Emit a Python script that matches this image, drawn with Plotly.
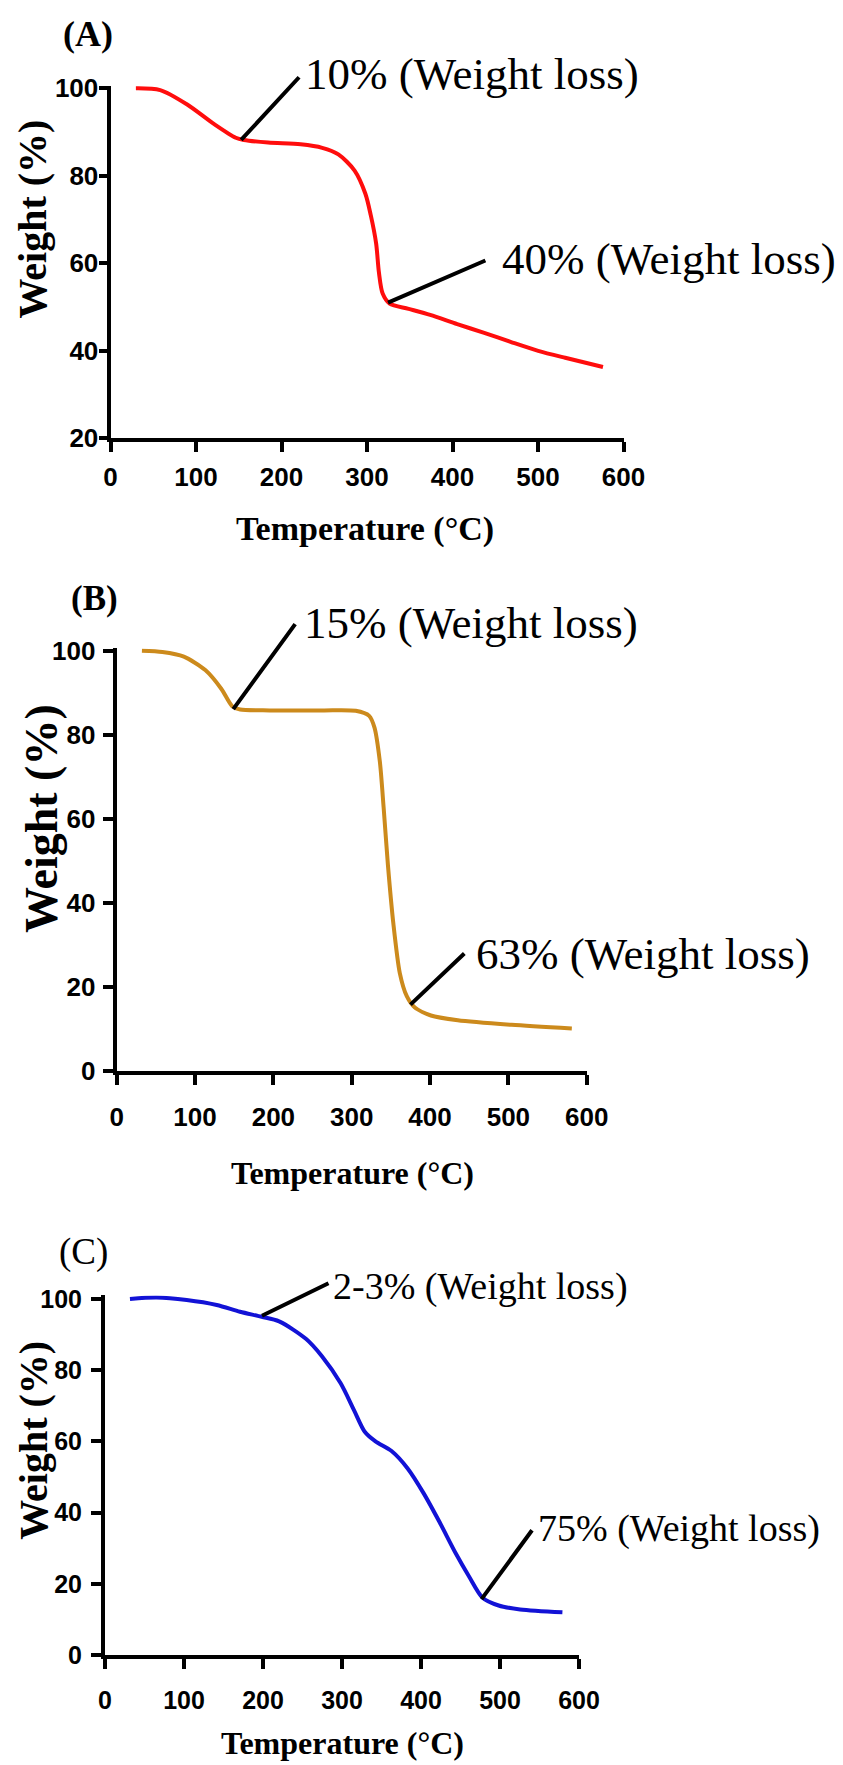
import plotly.graph_objects as go

# ---------------- data ----------------
temp_a = [29.7, 58.1, 89.7, 121.3, 146.5, 156, 184.4, 222.3, 247.6, 266.5, 285.5, 298.1,
          304.4, 310.7, 313.9, 318.3, 326.5, 348.6, 373.9, 405.5, 437.1, 468.6, 500.2, 531.8, 576]
weight_a = [100, 99.6, 96.3, 91.8, 88.7, 88.2, 87.6, 87.2, 86.4, 84.9, 81.2, 75.9,
            71.0, 64.5, 58.0, 53.1, 50.8, 49.6, 48.2, 46.1, 44.1, 42.0, 40.0, 38.4, 36.3]

temp_b = [32.2, 58.3, 85.7, 113.1, 133.7, 147.4, 157.7, 195.4, 264.0, 305.1, 322.3, 329.1,
          336.0, 340.8, 346.3, 353.1, 361.4, 370.3, 380.6, 401.1, 435.4, 504.0, 581]
weight_b = [100, 99.7, 98.6, 95.4, 90.9, 86.8, 86.0, 85.8, 85.8, 85.7, 84.5, 81.7,
            73.5, 62.6, 48.9, 35.2, 23.3, 17.8, 15.1, 13.2, 12.1, 11.0, 10.1]

temp_c = [31.6, 65.4, 103.4, 141.4, 170.9, 198.3, 220.4, 254.3, 274.6, 298.3, 315.3, 328.8,
          342.4, 362.7, 383.1, 403.4, 423.8, 444.1, 461.0, 478.0, 498.3, 525.5, 579]
weight_c = [100, 100.4, 99.7, 98.3, 96.4, 95.0, 93.7, 88.8, 83.9, 76.3, 68.7, 62.7,
            60.0, 57.3, 52.4, 45.4, 37.2, 28.5, 22.0, 16.1, 13.9, 12.8, 12.0]

x_ticks = [0, 100, 200, 300, 400, 500, 600]
y_ticks_a = [20, 40, 60, 80, 100]
y_ticks_bc = [0, 20, 40, 60, 80, 100]

# weight-loss callouts: (curve point T, w), (line end T, w), (text T, w), label
loss_a = [((152.8, 88.2), (222.3, 102.9), (225.5, 103.3), "10% (Weight loss)"),
          ((324.6, 51.0), (440.2, 60.8), (456.0, 61.1), "40% (Weight loss)")]
loss_b = [((148.8, 86.1), (229.7, 106.8), (236.6, 106.7), "15% (Weight loss)"),
          ((375.0, 15.8), (445.7, 28.3), (456.0, 27.9), "63% (Weight loss)")]
loss_c = [((198.7, 95.3), (284.8, 104.6), (286.0, 103.5), "2-3% (Weight loss)"),
          ((476.6, 15.7), (542.4, 35.6), (545.8, 35.4), "75% (Weight loss)")]

range_x = [0, 600]
range_ya = [20, 100.6]
range_yb = [0, 100.6]
range_yc = [0, 101]

# ---------------- layout helpers ----------------
W, H = 843, 1765


def px(x):
    return x / W


def py(y):
    return 1 - y / H


SANS = "Liberation Sans, Arial, sans-serif"
SERIF = "Liberation Serif, Times New Roman, serif"

fig = go.Figure()
fig.add_trace(go.Scatter(x=temp_a, y=weight_a, mode="lines",
                         line=dict(color="#ff0d0d", width=4, shape="spline", smoothing=0.8),
                         xaxis="x", yaxis="y"))
fig.add_trace(go.Scatter(x=temp_b, y=weight_b, mode="lines",
                         line=dict(color="#cc8a1c", width=4, shape="spline", smoothing=0.7),
                         xaxis="x2", yaxis="y2"))
fig.add_trace(go.Scatter(x=temp_c, y=weight_c, mode="lines",
                         line=dict(color="#1212d6", width=4, shape="spline", smoothing=0.8),
                         xaxis="x3", yaxis="y3"))


def axis_style(tick_size, ticklen, standoff, tickvals):
    return dict(showline=True, linecolor="black", linewidth=4, ticks="outside", tickcolor="black",
                tickwidth=3.5, ticklen=ticklen, showgrid=False, zeroline=False, automargin=False,
                tickvals=tickvals, ticklabelstandoff=standoff,
                tickfont=dict(family=SANS, size=tick_size, color="black", weight="bold"))


fig.update_layout(
    width=W, height=H, margin=dict(l=0, r=0, t=0, b=0),
    paper_bgcolor="white", plot_bgcolor="white", showlegend=False,
    xaxis=dict(domain=[px(110.5), px(623.5)], range=range_x, anchor="y",
               **axis_style(26, 10, 2, x_ticks)),
    yaxis=dict(domain=[py(438.3), py(85.7)], range=range_ya, anchor="x",
               **axis_style(26, 8, -5, y_ticks_a)),
    xaxis2=dict(domain=[px(116.7), px(586.7)], range=range_x, anchor="y2",
                **axis_style(26, 10, 10, x_ticks)),
    yaxis2=dict(domain=[py(1071), py(648.2)], range=range_yb, anchor="x2",
                **axis_style(26, 10, 2, y_ticks_bc)),
    xaxis3=dict(domain=[px(105), px(579)], range=range_x, anchor="y3",
                **axis_style(25, 10, 10, x_ticks)),
    yaxis3=dict(domain=[py(1655), py(1295.4)], range=range_yc, anchor="x3",
                **axis_style(25, 10, 4, y_ticks_bc)),
)

annotations = []


def paper_text(text, x, y, size, bold=True, angle=0, family=SERIF):
    annotations.append(dict(text=text, x=px(x), y=py(y), xref="paper", yref="paper",
                            xanchor="center", yanchor="middle", showarrow=False, textangle=angle,
                            font=dict(family=family, size=size, color="black",
                                      weight="bold" if bold else "normal")))


# panel labels and axis titles
paper_text("(A)", 87.5, 34, 36)
paper_text("Weight (%)", 32, 219.5, 40, angle=-90)
paper_text("Temperature (°C)", 365, 529, 34)

paper_text("(B)", 94.5, 599, 35)
paper_text("Weight (%)", 41.5, 818.5, 46, angle=-90)
paper_text("Temperature (°C)", 352, 1173, 32)

paper_text("(C)", 83, 1252, 37, bold=False)
paper_text("Weight (%)", 32.7, 1440, 40, angle=-90)
paper_text("Temperature (°C)", 342, 1743, 32)


def callouts(items, xr, yr, yrange, size):
    for (pt, end, txt_pos, label) in items:
        annotations.append(dict(x=pt[0], y=pt[1], xref=xr, yref=yr, ax=end[0], ay=end[1],
                                axref=xr, ayref=yr, showarrow=True, arrowhead=0, arrowwidth=4,
                                arrowcolor="black", standoff=0, startstandoff=0, text=" ",
                                font=dict(size=1)))
        # text placed through the y-axis domain so it may sit above the axis range
        frac = (txt_pos[1] - yrange[0]) / (yrange[1] - yrange[0])
        annotations.append(dict(x=txt_pos[0], y=frac, xref=xr, yref=yr + " domain", text=label,
                                showarrow=False, xanchor="left", yanchor="middle",
                                font=dict(family=SERIF, size=size, color="black")))


callouts(loss_a, "x", "y", range_ya, 45)
callouts(loss_b, "x2", "y2", range_yb, 45)
callouts(loss_c, "x3", "y3", range_yc, 38)

fig.update_layout(annotations=annotations)

fig.write_html("out.html")
